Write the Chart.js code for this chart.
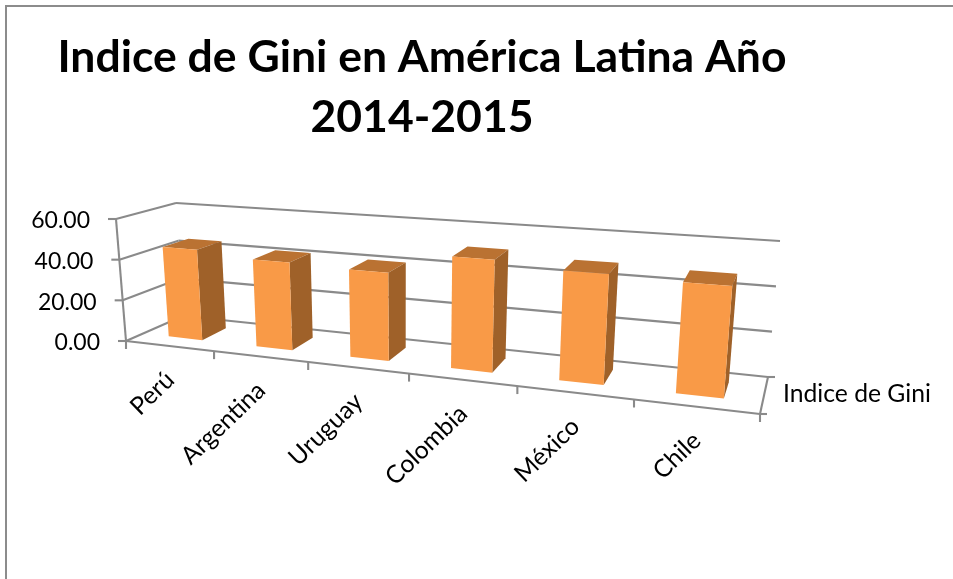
<!DOCTYPE html>
<html>
<head>
<meta charset="utf-8">
<title>Indice de Gini</title>
<script src="https://cdn.jsdelivr.net/npm/chart.js@4"></script>
<style>
  html, body { margin: 0; padding: 0; background: #fff; }
  canvas { display: block; }
</style>
</head>
<body>
<canvas id="giniChart" width="953" height="579"></canvas>
<script>
const categories = ['Perú', 'Argentina', 'Uruguay', 'Colombia', 'México', 'Chile'];
const giniValues = [44.5, 42.0, 41.0, 50.8, 48.3, 47.3];
const seriesName = 'Indice de Gini';
const titleLines = ['Indice de Gini en América Latina Año', '2014-2015'];
const fontName = 'Lato, Carlito, sans-serif';

// corners of the 3D box on the page, used only to project the scale positions
const box = {
    frontBottomLeft: [126, 341], frontBottomRight: [760, 414],
    frontTopLeft: [116, 219], frontTopRight: [772, 266],
    backBottomLeft: [183, 316], backBottomRight: [768, 377],
    backTopLeft: [176, 203], backTopRight: [780, 241]
};
const perspective = 1.24;   // far left categories look narrower than the right ones
const barFront = 0.3;       // depth of the bars inside the floor
const barBack = 0.75;

function mix(a, b, t) {
    return [a[0] + (b[0] - a[0]) * t, a[1] + (b[1] - a[1]) * t];
}

// u: along the category axis, v: up the value axis, w: depth. All 0..1
function project(u, v, w) {
    const p = u / (u + perspective * (1 - u));
    const front = mix(mix(box.frontBottomLeft, box.frontBottomRight, p), mix(box.frontTopLeft, box.frontTopRight, p), v);
    const back = mix(mix(box.backBottomLeft, box.backBottomRight, p), mix(box.backTopLeft, box.backTopRight, p), v);
    return mix(front, back, w);
}

function line(ctx, a, b) {
    ctx.beginPath();
    ctx.moveTo(a[0], a[1]);
    ctx.lineTo(b[0], b[1]);
    ctx.stroke();
}

function face(ctx, color, points) {
    ctx.fillStyle = color;
    ctx.beginPath();
    points.forEach((p, i) => i ? ctx.lineTo(p[0], p[1]) : ctx.moveTo(p[0], p[1]));
    ctx.closePath();
    ctx.fill();
}

const bars3d = {
    id: 'bars3d',
    beforeDatasetsDraw(chart) {
        const ctx = chart.ctx;
        const xScale = chart.scales.x;
        const yScale = chart.scales.y;
        const toU = px => (px - xScale.left) / (xScale.right - xScale.left);
        const toV = py => (yScale.bottom - py) / (yScale.bottom - yScale.top);
        const step = xScale.getPixelForValue(1) - xScale.getPixelForValue(0);

        ctx.save();

        // chart border, only top and left show in the picture
        ctx.strokeStyle = '#8c8c8c';
        ctx.lineWidth = 2;
        line(ctx, [6, 579], [6, 6]);
        line(ctx, [5, 6], [953, 6]);

        // walls and floor
        ctx.strokeStyle = '#8a8a8a';
        ctx.lineWidth = 2.1;
        ctx.fillStyle = '#000';
        ctx.font = '23px ' + fontName;
        ctx.textAlign = 'right';
        ctx.textBaseline = 'middle';
        yScale.ticks.forEach(tick => {
            const v = toV(yScale.getPixelForValue(tick.value));
            const corner = project(0, v, 0);
            line(ctx, corner, project(0, v, 1));
            line(ctx, project(0, v, 1), project(1, v, 1));
            line(ctx, [corner[0] - 8, corner[1]], corner);
            ctx.fillText(tick.label, corner[0] - 26, corner[1] + 2);
        });
        line(ctx, project(0, 0, 0), project(0, 1, 0));
        line(ctx, project(0, 0, 0), project(1, 0, 0));
        line(ctx, project(1, 0, 0), project(1, 0, 1));
        line(ctx, project(1, 0, 0), [project(1, 0, 0)[0] + 7, project(1, 0, 0)[1]]);
        line(ctx, project(1, 0, 1), [project(1, 0, 1)[0] + 7, project(1, 0, 1)[1]]);

        // category ticks and the slanted labels
        ctx.font = '24.7px ' + fontName;
        for (let i = 0; i <= xScale.ticks.length; i++) {
            const p = project(toU(xScale.getPixelForValue(0) + (i - 0.5) * step), 0, 0);
            line(ctx, p, [p[0], p[1] + 8]);
        }
        xScale.getLabels().forEach((label, i) => {
            const p = project(toU(xScale.getPixelForValue(i)), 0, 0);
            ctx.save();
            ctx.translate(p[0] + 1, p[1] + 30);
            ctx.rotate(-44 * Math.PI / 180);
            ctx.fillStyle = '#000';
            ctx.fillText(label, 0, 0);
            ctx.restore();
        });

        // series name at the end of the depth axis
        ctx.textAlign = 'left';
        ctx.fillText(chart.data.datasets[0].label, 783, 394);

        // bars, taken from the elements the bar controller worked out
        const colors = chart.data.datasets[0];
        chart.getDatasetMeta(0).data.forEach(bar => {
            const left = toU(bar.x - bar.width / 2);
            const right = toU(bar.x + bar.width / 2);
            const top = toV(bar.y);
            const p = (u, v, w) => project(u, v, w);
            face(ctx, colors.topColor, [p(left, top, barFront), p(right, top, barFront), p(right, top, barBack), p(left, top, barBack)]);
            face(ctx, colors.sideColor, [p(right, 0, barFront), p(right, top, barFront), p(right, top, barBack), p(right, 0, barBack)]);
            face(ctx, colors.backgroundColor, [p(left, 0, barFront), p(right, 0, barFront), p(right, top, barFront), p(left, top, barFront)]);
        });

        ctx.restore();
        return false;
    }
};

new Chart(document.getElementById('giniChart'), {
    type: 'bar',
    data: {
        labels: categories,
        datasets: [{
            label: seriesName,
            data: giniValues,
            backgroundColor: '#f99a47',
            topColor: '#ba7232',
            sideColor: '#9f6129',
            barPercentage: 0.39,
            categoryPercentage: 1
        }]
    },
    plugins: [bars3d],
    options: {
        responsive: false,
        animation: false,
        layout: { padding: { left: 0, right: 109, top: 14, bottom: 165 } },
        plugins: {
            legend: { display: false },
            tooltip: { enabled: false },
            title: {
                display: true,
                text: titleLines,
                color: '#000',
                font: { family: fontName, size: 44.5, weight: 'bold', lineHeight: 1.35 },
                padding: { top: 14, bottom: 20 }
            }
        },
        scales: {
            x: { display: false },
            y: {
                display: false,
                min: 0,
                max: 60,
                ticks: { stepSize: 20, callback: value => value.toFixed(2) }
            }
        }
    }
});
</script>
</body>
</html>
